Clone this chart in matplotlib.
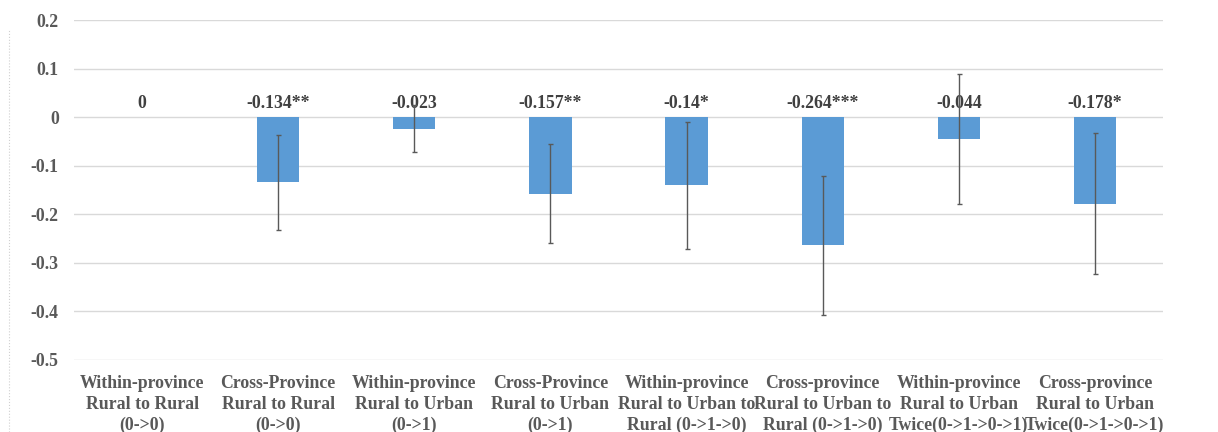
import matplotlib.pyplot as plt
from matplotlib.lines import Line2D

plt.rcParams['axes.unicode_minus'] = False

categories = ['Within-province\nRural to Rural\n(0->0)',
              'Cross-Province\nRural to Rural\n(0->0)',
              'Within-province\nRural to Urban\n(0->1)',
              'Cross-Province\nRural to Urban\n(0->1)',
              'Within-province\nRural to Urban to\nRural (0->1->0)',
              'Cross-province\nRural to Urban to\nRural (0->1->0)',
              'Within-province\nRural to Urban\nTwice(0->1->0->1)',
              'Cross-province\nRural to Urban\nTwice(0->1->0->1)']
coef = [0, -0.134, -0.023, -0.157, -0.14, -0.264, -0.044, -0.178]
err = [0, 0.098, 0.048, 0.102, 0.131, 0.143, 0.134, 0.145]
stars = ['', '**', '', '**', '*', '***', '', '*']
yticks = [0.2, 0.1, 0, -0.1, -0.2, -0.3, -0.4, -0.5]
ytick_labels = ['0.2', '0.1', '0', '-0.1', '-0.2', '-0.3', '-0.4', '-0.5']

font = {'family': 'Liberation Serif', 'weight': 'bold', 'size': 12.8}
text_color = '#404040'

fig = plt.figure(figsize=(12.18, 4.32), dpi=100)
ax = fig.add_axes([0.0608, 0.1667, 0.894, 0.7863])

x = range(len(coef))
ax.bar(x, coef, width=0.31, color='#5B9BD5', zorder=2)
# 误差线画在数值标签之上
ax.errorbar([i for i in x if err[i] > 0], [coef[i] for i in x if err[i] > 0],
            yerr=[e for e in err if e > 0], fmt='none', ecolor='#595959',
            elinewidth=1, capsize=1.8, capthick=1, zorder=4)

for i in x:
    label = '0' if coef[i] == 0 else str(coef[i]) + stars[i]
    ax.text(i, 0.028, label, ha='center', va='center', fontdict=font,
            color=text_color, zorder=3)

ax.set_xlim(-0.5, len(coef) - 0.5)
ax.set_ylim(-0.5, 0.2)
ax.set_yticks(yticks)
ax.set_yticklabels(ytick_labels, fontdict=font, color='#595959')
ax.set_xticks(list(x))
ax.set_xticklabels(categories, fontdict=font, color='#595959', linespacing=1.27)
ax.tick_params(axis='both', length=0)
ax.tick_params(axis='y', pad=11)
ax.tick_params(axis='x', pad=11)

for s in ax.spines.values():
    s.set_visible(False)
ax.grid(axis='y', color='#D9D9D9', linewidth=1, zorder=0)
ax.set_axisbelow(True)

# 左侧的虚线边框
fig.add_artist(Line2D([0.0075, 0.0075], [0.0, 0.93], transform=fig.transFigure,
                      color='#D0D0D0', linewidth=0.8, linestyle=':'))

plt.savefig('out.png', dpi=100)
